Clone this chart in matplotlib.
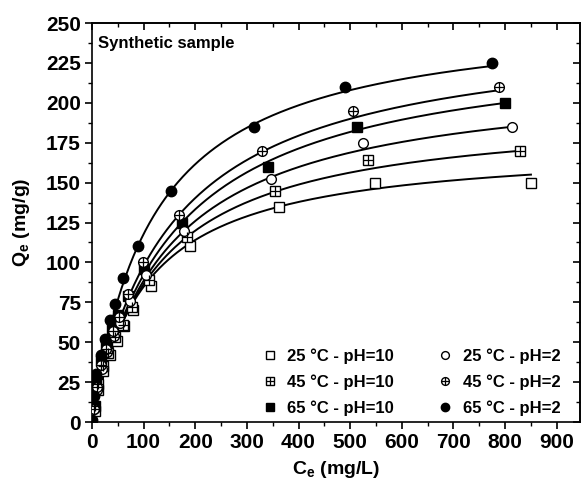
import matplotlib
matplotlib.use("Agg")
import matplotlib.pyplot as plt
import numpy as np
from matplotlib.ticker import MultipleLocator
from matplotlib.legend_handler import HandlerTuple

plt.rcParams.update({
    "font.family": ["Liberation Sans", "DejaVu Sans"],
    "font.weight": "bold",
    "axes.labelweight": "bold",
    "font.size": 13,
    "mathtext.fontset": "custom",
    "mathtext.rm": "Liberation Sans:bold",
    "mathtext.bf": "Liberation Sans:bold",
    "mathtext.default": "bf",
    "axes.linewidth": 1.2,
})

# ---------------- data ----------------
ce_25_10 = [5, 12, 22, 34, 49, 62, 80, 114, 189, 363, 549, 850]
qe_25_10 = [7, 20, 32, 42, 51, 60, 70, 85, 110, 135, 150, 150]

ce_45_10 = [5, 11, 21, 32, 45, 60, 78, 110, 184, 354, 535, 829]
qe_45_10 = [10, 24, 35, 43, 53, 61, 72, 89, 116, 145, 164, 170]

ce_65_10 = [3, 8, 17, 27, 38, 50, 70, 101, 174, 340, 513, 800]
qe_65_10 = [10, 25, 38, 48, 58, 67, 79, 96, 125, 160, 185, 200]

ce_25_2 = [4, 10, 19, 30, 42, 55, 73, 105, 179, 347, 524, 814]
qe_25_2 = [8, 20, 33, 44, 54, 62, 76, 92, 120, 152, 175, 185]

ce_45_2 = [3, 9, 18, 28, 40, 52, 70, 98, 169, 329, 505, 789]
qe_45_2 = [8, 22, 36, 46, 57, 66, 80, 100, 130, 170, 195, 210]

ce_65_2 = [1, 4, 8, 17, 26, 35, 45, 60, 89, 153, 313, 490, 775]
qe_65_2 = [1, 16, 30, 42, 52, 64, 74, 90, 110, 145, 185, 210, 225]

# Langmuir fit parameters (Qm, KL) estimated from the fitted curves
fit_qm = [174.3, 196.0, 240.0, 218.4, 248.6, 257.2]
fit_kl = [0.00947, 0.00788, 0.006245, 0.006815, 0.006485, 0.008447]

labels = ["25 °C - pH=10", "45 °C - pH=10", "65 °C - pH=10",
          "25 °C - pH=2", "45 °C - pH=2", "65 °C - pH=2"]

series = [(ce_25_10, qe_25_10), (ce_45_10, qe_45_10), (ce_65_10, qe_65_10),
          (ce_25_2, qe_25_2), (ce_45_2, qe_45_2), (ce_65_2, qe_65_2)]

# ---------------- plotting ----------------
fig = plt.figure(figsize=(5.82, 4.91), dpi=100)
ax = fig.add_axes([0.158, 0.1405, 0.8386, 0.8125])

# fitted curves
for (ce, qe), qm, kl in zip(series, fit_qm, fit_kl):
    c = np.linspace(0, max(ce), 300)
    ax.plot(c, qm * kl * c / (1 + kl * c), color="black", lw=1.4, zorder=2)

ms_sq = 6.5
ms_ci = 7
handles = []

h = ax.plot(ce_25_10, qe_25_10, "s", ms=ms_sq, mfc="white", mec="black", mew=1.0, zorder=3)[0]
handles.append(h)

h1 = ax.plot(ce_45_10, qe_45_10, "s", ms=ms_sq, mfc="white", mec="black", mew=1.0, zorder=3)[0]
h2 = ax.plot(ce_45_10, qe_45_10, "+", ms=ms_sq, mec="black", mew=0.9, zorder=4)[0]
handles.append((h1, h2))

h = ax.plot(ce_65_10, qe_65_10, "s", ms=ms_sq, mfc="black", mec="black", zorder=3)[0]
handles.append(h)

h = ax.plot(ce_25_2, qe_25_2, "o", ms=ms_ci, mfc="white", mec="black", mew=1.0, zorder=3)[0]
handles.append(h)

h1 = ax.plot(ce_45_2, qe_45_2, "o", ms=ms_ci, mfc="white", mec="black", mew=1.0, zorder=3)[0]
h2 = ax.plot(ce_45_2, qe_45_2, "+", ms=ms_ci, mec="black", mew=0.9, zorder=4)[0]
handles.append((h1, h2))

h = ax.plot(ce_65_2, qe_65_2, "o", ms=ms_ci + 0.5, mfc="black", mec="black", zorder=3)[0]
handles.append(h)

ax.set_xlim(0, 945)
ax.set_ylim(0, 250)
ax.xaxis.set_major_locator(MultipleLocator(100))
ax.xaxis.set_minor_locator(MultipleLocator(50))
ax.yaxis.set_major_locator(MultipleLocator(25))
ax.yaxis.set_minor_locator(MultipleLocator(12.5))
ax.tick_params(which="major", direction="out", length=5, width=1.2, labelsize=15, pad=3)
ax.tick_params(which="minor", direction="out", length=3, width=1.0)
for lab in ax.get_xticklabels() + ax.get_yticklabels():
    lab.set_fontweight("bold")

# mirrored inward ticks on top and right
secx = ax.secondary_xaxis("top")
secx.xaxis.set_major_locator(MultipleLocator(100))
secx.xaxis.set_minor_locator(MultipleLocator(50))
secx.tick_params(which="both", direction="in", labeltop=False)
secx.tick_params(which="major", length=5, width=1.2)
secx.tick_params(which="minor", length=3, width=1.0)

secy = ax.secondary_yaxis("right")
secy.yaxis.set_major_locator(MultipleLocator(25))
secy.yaxis.set_minor_locator(MultipleLocator(12.5))
secy.tick_params(which="both", direction="in", labelright=False)
secy.tick_params(which="major", length=5, width=1.2)
secy.tick_params(which="minor", length=3, width=1.0)

ax.set_xlabel(r"$\mathbf{C_e}$ (mg/L)", fontsize=14, fontweight="bold", labelpad=5)
ax.set_ylabel(r"$\mathbf{Q_e}$ (mg/g)", fontsize=14, fontweight="bold", labelpad=10)

ax.text(0.012, 0.967, "Synthetic sample", transform=ax.transAxes,
        ha="left", va="top", fontsize=12, fontweight="bold")

leg = ax.legend(handles, labels, ncol=2, loc="lower right",
                bbox_to_anchor=(0.99, -0.022), frameon=False,
                prop={"size": 12, "weight": "bold"},
                handler_map={tuple: HandlerTuple(ndivide=1, pad=0)},
                handlelength=0.9, handletextpad=0.6, columnspacing=2.6,
                labelspacing=0.62, markerscale=0.8)

fig.savefig("out.png", dpi=100)
plt.close(fig)
